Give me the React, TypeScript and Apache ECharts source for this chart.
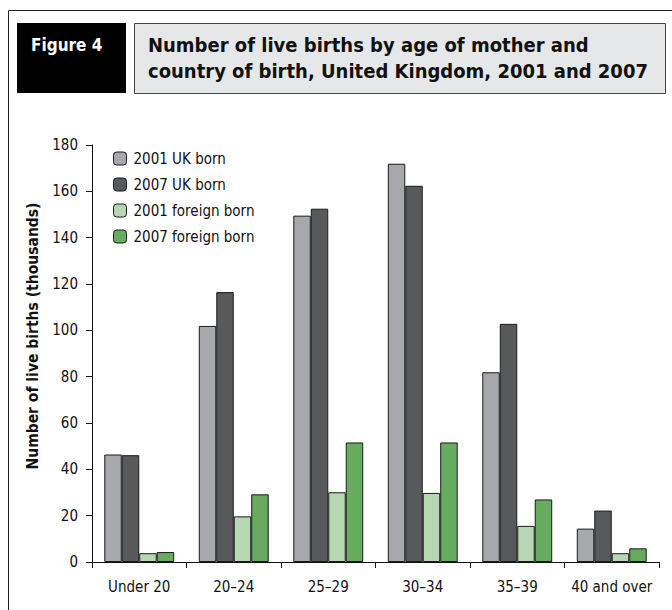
import React, { useEffect, useRef } from "react";
import * as echarts from "echarts";

const categories = ["Under 20", "20–24", "25–29", "30–34", "35–39", "40 and over"];
const uk2001 = [46.4, 101.9, 149.5, 171.9, 81.9, 14.4];
const uk2007 = [46.1, 116.5, 152.5, 162.4, 102.8, 22.2];
const foreign2001 = [3.8, 19.7, 30.1, 29.8, 15.6, 3.8];
const foreign2007 = [4.3, 29.2, 51.6, 51.6, 27.0, 5.9];
const seriesNames = ["2001 UK born", "2007 UK born", "2001 foreign born", "2007 foreign born"];
const seriesColors = ["#a7a8ac", "#58595b", "#b6d7b1", "#66ab5f"];
const yTicks = { min: 0, max: 180, interval: 20 };
const yAxisTitle = "Number of live births (thousands)";

const FONT = "'DejaVu Sans Condensed', 'Open Sans', sans-serif";

export default function App() {
  const ref = useRef<HTMLDivElement>(null);
  useEffect(() => {
    if (!ref.current) return;
    const chart = echarts.init(ref.current, null, { renderer: "svg" });
    const data = [uk2001, uk2007, foreign2001, foreign2007];
    chart.setOption({
      animation: false,
      textStyle: { fontFamily: FONT },
      graphic: [
        { type: "line", shape: { x1: 8.5, y1: 10.5, x2: 672, y2: 10.5 }, style: { stroke: "#222", lineWidth: 1 } },
        { type: "line", shape: { x1: 8.5, y1: 10.5, x2: 8.5, y2: 610 }, style: { stroke: "#222", lineWidth: 1 } },
        { type: "rect", shape: { x: 17, y: 23, width: 109, height: 70 }, style: { fill: "#000" } },
        { type: "text", x: 31, y: 45, style: { text: "Figure 4", fill: "#fff", font: `bold 17px ${FONT}`, verticalAlign: "middle" } },
        { type: "rect", shape: { x: 134.5, y: 23.5, width: 531, height: 70 }, style: { fill: "#e6e7e8", stroke: "#444", lineWidth: 1 } },
        { type: "text", x: 148, y: 45, style: { text: "Number of live births by age of mother and", fill: "#111", font: `bold 20px ${FONT}`, verticalAlign: "middle" } },
        { type: "text", x: 148, y: 71, style: { text: "country of birth, United Kingdom, 2001 and 2007", fill: "#111", font: `bold 20px ${FONT}`, verticalAlign: "middle" } },
        { type: "text", x: 33, y: 336, rotation: Math.PI / 2, style: { text: yAxisTitle, fill: "#111", font: `bold 15.5px ${FONT}`, align: "center", verticalAlign: "middle" } },
      ],
      legend: {
        orient: "vertical",
        left: 108,
        top: 146,
        itemWidth: 13,
        itemHeight: 13,
        itemGap: 11,
        itemStyle: { borderColor: "#1a1a1a", borderWidth: 1 },
        textStyle: { fontSize: 15, color: "#111", fontFamily: FONT, padding: [0, 0, 0, 2] },
        data: seriesNames,
      },
      grid: { left: 92, right: 13, top: 145, bottom: 48 },
      xAxis: {
        type: "category",
        data: categories,
        axisLine: { lineStyle: { color: "#111", width: 1 } },
        axisTick: { show: true, length: 6, lineStyle: { color: "#111" } },
        axisLabel: { color: "#111", fontSize: 15, margin: 17, fontFamily: FONT, interval: 0 },
      },
      yAxis: {
        type: "value",
        min: yTicks.min,
        max: yTicks.max,
        interval: yTicks.interval,
        splitLine: { show: false },
        axisLine: { show: true, lineStyle: { color: "#111", width: 1 } },
        axisTick: { show: true, length: 6, lineStyle: { color: "#111" } },
        axisLabel: { color: "#111", fontSize: 15, margin: 14, fontFamily: FONT },
      },
      series: seriesNames.map((name, i) => ({
        name,
        type: "bar",
        data: data[i],
        barGap: "0%",
        barCategoryGap: "26%",
        itemStyle: { color: seriesColors[i], borderColor: "#1a1a1a", borderWidth: 1 },
      })),
    });
    return () => chart.dispose();
  }, []);
  return <div ref={ref} style={{ position: "fixed", left: 0, top: 0, width: 672, height: 610, background: "#fff" }} />;
}
